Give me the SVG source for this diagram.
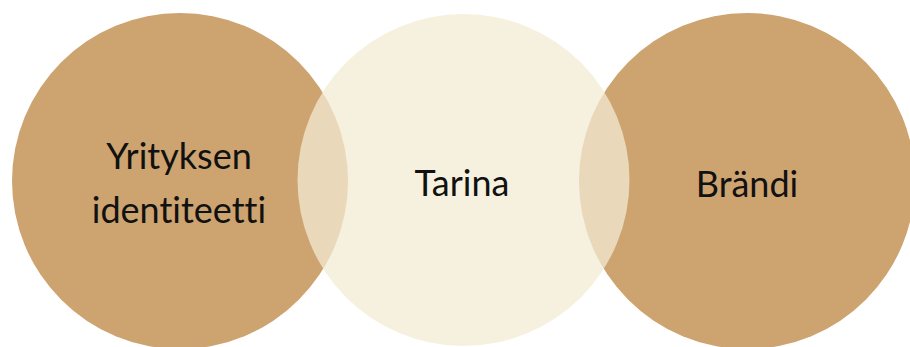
<svg xmlns="http://www.w3.org/2000/svg" width="910" height="347" viewBox="0 0 910 347">
<style>
.brown{fill:#cda36f}
.cream{fill:#f3ebd3;fill-opacity:0.74}
.lbl{font-family:Lato,"Open Sans","Liberation Sans",sans-serif;font-size:36px;fill:#111;text-anchor:middle;font-variant-ligatures:none;font-feature-settings:"liga" 0}
</style>
<rect width="910" height="347" fill="#ffffff"/>
<g id="node-identiteetti">
<circle class="brown" cx="180" cy="181" r="168"/>
<text class="lbl" x="179" y="169">Yrityksen</text>
<text class="lbl" x="179" y="223">identiteetti</text>
</g>
<g id="node-brandi">
<circle class="brown" cx="747" cy="181" r="168"/>
<text class="lbl" x="747" y="197">Brändi</text>
</g>
<g id="node-tarina">
<circle class="cream" cx="463.5" cy="180" r="166"/>
<text class="lbl" x="462" y="196">Tarina</text>
</g>
<g id="connectors"/>
</svg>
